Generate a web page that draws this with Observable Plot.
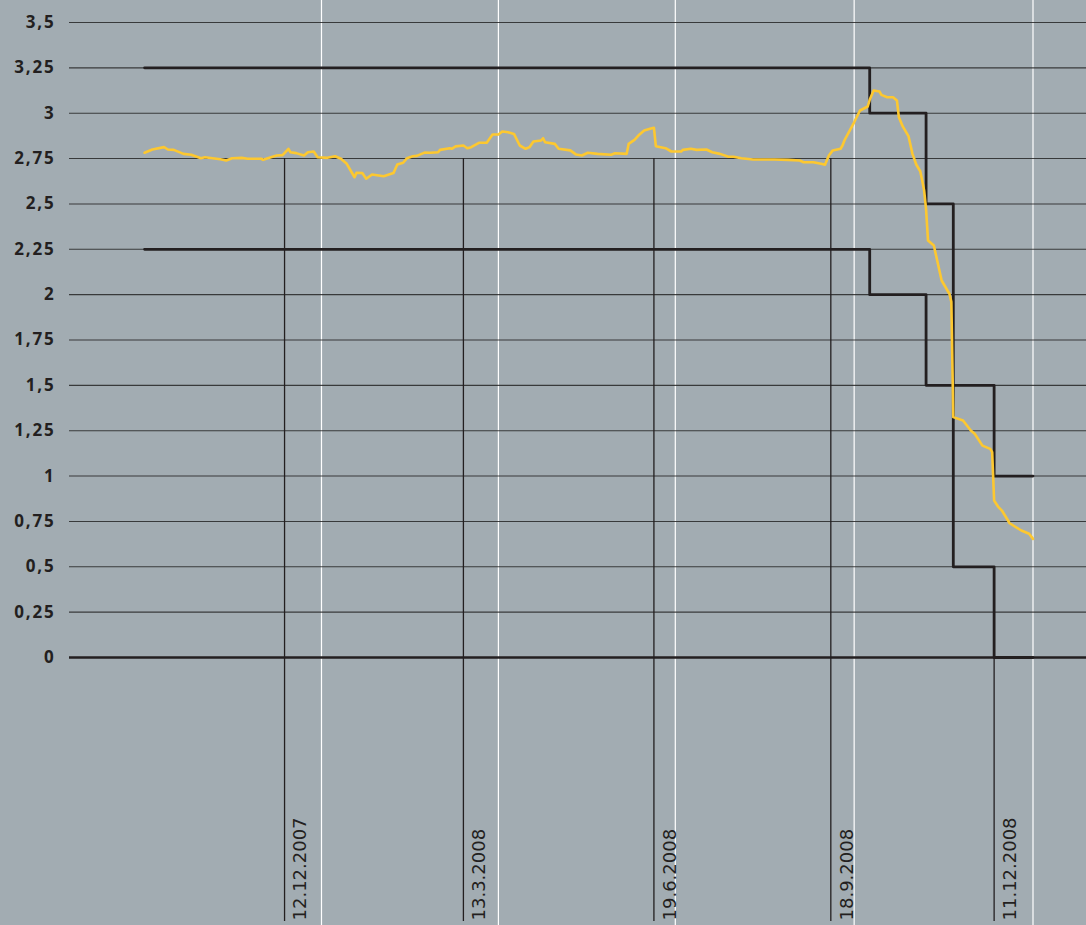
<!DOCTYPE html>
<html>
<head>
<meta charset="utf-8">
<script src="https://cdn.jsdelivr.net/npm/d3@7"></script>
<script src="https://cdn.jsdelivr.net/npm/@observablehq/plot@0.6"></script>
<style>
  html, body { margin: 0; padding: 0; background: #a2acb2; }
  #chart svg { display: block; }
  #chart g[aria-label="y-axis tick label"] { letter-spacing: 1.8px; font-weight: 700; }
</style>
</head>
<body>
<div id="chart"></div>
<script>
// 3-month CHF Libor (daily readings)
const liborDates = [
  "2007-10-02","2007-10-06","2007-10-12","2007-10-14","2007-10-17","2007-10-22","2007-10-26","2007-10-31",
  "2007-11-02","2007-11-10","2007-11-13","2007-11-16","2007-11-21","2007-11-24","2007-12-01","2007-12-02",
  "2007-12-06","2007-12-09","2007-12-12","2007-12-15","2007-12-16","2007-12-19","2007-12-23","2007-12-25",
  "2007-12-28","2007-12-30","2008-01-04","2008-01-08","2008-01-11","2008-01-14","2008-01-18","2008-01-19",
  "2008-01-22","2008-01-24","2008-01-27","2008-02-02","2008-02-07","2008-02-09","2008-02-12","2008-02-14",
  "2008-02-17","2008-02-19","2008-02-23","2008-02-26","2008-03-01","2008-03-02","2008-03-07","2008-03-08",
  "2008-03-10","2008-03-14","2008-03-16","2008-03-18","2008-03-22","2008-03-26","2008-03-29","2008-04-01",
  "2008-04-03","2008-04-06","2008-04-09","2008-04-12","2008-04-15","2008-04-17","2008-04-19","2008-04-23",
  "2008-04-24","2008-04-25","2008-04-30","2008-05-02","2008-05-08","2008-05-11","2008-05-14","2008-05-17",
  "2008-05-22","2008-05-29","2008-05-31","2008-06-06","2008-06-07","2008-06-10","2008-06-12","2008-06-15",
  "2008-06-18","2008-06-20","2008-06-21","2008-06-26","2008-06-29","2008-07-04","2008-07-05","2008-07-09",
  "2008-07-12","2008-07-17","2008-07-20","2008-07-24","2008-07-28","2008-07-31","2008-08-04","2008-08-10",
  "2008-08-21","2008-08-28","2008-09-03","2008-09-05","2008-09-10","2008-09-14","2008-09-16","2008-09-18",
  "2008-09-20","2008-09-24","2008-09-25","2008-09-26","2008-10-01","2008-10-04","2008-10-08","2008-10-09",
  "2008-10-11","2008-10-14","2008-10-15","2008-10-18","2008-10-21","2008-10-23","2008-10-24","2008-10-26",
  "2008-10-29","2008-10-31","2008-11-02","2008-11-04","2008-11-05","2008-11-06","2008-11-07","2008-11-08",
  "2008-11-11","2008-11-15","2008-11-18","2008-11-19","2008-11-20","2008-11-21","2008-11-26","2008-11-30",
  "2008-12-02","2008-12-06","2008-12-10","2008-12-11","2008-12-12","2008-12-14","2008-12-16","2008-12-20",
  "2008-12-26","2008-12-30","2009-01-01"
];
const liborValues = [
  2.782,2.800,2.813,2.800,2.798,2.776,2.771,2.752,
  2.757,2.746,2.739,2.752,2.754,2.749,2.749,2.743,
  2.757,2.767,2.769,2.804,2.785,2.780,2.767,2.785,
  2.789,2.757,2.754,2.763,2.749,2.721,2.647,2.672,
  2.670,2.639,2.662,2.653,2.670,2.717,2.727,2.752,
  2.763,2.765,2.783,2.782,2.785,2.798,2.807,2.804,
  2.817,2.822,2.807,2.813,2.837,2.837,2.883,2.883,
  2.899,2.895,2.886,2.822,2.804,2.813,2.844,2.850,
  2.862,2.840,2.831,2.804,2.795,2.772,2.767,2.782,
  2.776,2.771,2.779,2.776,2.831,2.853,2.877,2.905,
  2.914,2.920,2.818,2.807,2.789,2.789,2.798,2.804,
  2.798,2.800,2.785,2.776,2.761,2.760,2.752,2.745,
  2.745,2.743,2.739,2.730,2.730,2.721,2.716,2.767,
  2.795,2.804,2.822,2.850,2.950,3.015,3.037,3.074,
  3.125,3.120,3.101,3.088,3.088,3.070,2.978,2.927,
  2.872,2.776,2.716,2.680,2.629,2.574,2.470,2.298,
  2.271,2.078,2.023,2.005,1.960,1.325,1.306,1.251,
  1.233,1.168,1.150,1.132,0.865,0.832,0.810,0.740,
  0.700,0.682,0.654
];

// Target range for the 3-month Libor (upper / lower bound), step dates
const rangeDates  = ["2007-10-01","2008-10-08","2008-11-06","2008-11-20","2008-12-11","2008-12-31"];
const upperValues = [3.25, 3.0, 2.5, 1.5, 1.0, 1.0];
const lowerValues = [2.25, 2.0, 1.5, 0.5, 0.0, 0.0];

// Monetary policy assessments
const eventDates  = ["2007-12-12","2008-03-13","2008-06-19","2008-09-18","2008-12-11"];
const eventLabels = ["12.12.2007","13.3.2008","19.6.2008","18.9.2008","11.12.2008"];
const eventTops   = [2.75, 2.75, 2.75, 2.75, 0];

// Quarter boundaries (white grid lines)
const quarterDates = ["2008-01-01","2008-04-01","2008-07-01","2008-10-01","2009-01-01"];

// Y tick values
const yTickValues = [0, 0.25, 0.5, 0.75, 1, 1.25, 1.5, 1.75, 2, 2.25, 2.5, 2.75, 3, 3.25, 3.5];

const parse = s => new Date(s + "T00:00:00Z");
const endOfDay = d => d3.utcDay.offset(d, 1);

const libor = liborDates.map((d, i) => ({date: parse(d), value: liborValues[i]}));
const upper = rangeDates.map((d, i) => ({date: endOfDay(parse(d)), value: upperValues[i]}));
const lower = rangeDates.map((d, i) => ({date: endOfDay(parse(d)), value: lowerValues[i]}));
const events = eventDates.map((d, i) => ({date: endOfDay(parse(d)), label: eventLabels[i], top: eventTops[i]}));
const quarters = quarterDates.map(parse);

const ink = "#231f20";

const chart = Plot.plot({
  width: 1086,
  height: 925,
  marginLeft: 69,
  marginRight: 0,
  marginTop: 22,
  marginBottom: 268,
  style: {background: "#a2acb2", color: ink, fontFamily: "'Open Sans', sans-serif", fontSize: "17px"},
  x: {type: "utc", domain: [new Date(Date.UTC(2007, 7, 24, 9)), new Date(Date.UTC(2009, 0, 28, 12, 30))], axis: null},
  y: {domain: [0, 3.5]},
  marks: [
    Plot.ruleX(quarters, {x: d => d, stroke: "#ffffff", strokeWidth: 1.2, insetTop: -22, insetBottom: -268}),
    Plot.ruleY(yTickValues.filter(v => v !== 0), {y: d => d, stroke: "#262626", strokeWidth: 1.1, strokeOpacity: 0.85}),
    Plot.ruleY([0], {stroke: ink, strokeWidth: 2.7}),
    Plot.ruleX(events, {x: "date", y1: "top", y2: () => 0, insetBottom: -264, stroke: ink, strokeWidth: 1.3}),
    Plot.line(upper, {x: "date", y: "value", curve: "step-after", stroke: ink, strokeWidth: 2.8}),
    Plot.line(lower, {x: "date", y: "value", curve: "step-after", stroke: ink, strokeWidth: 2.8}),
    Plot.line(libor, {x: "date", y: "value", stroke: "#fdc830", strokeWidth: 2.6, curve: "linear"}),
    Plot.axisY(yTickValues, {tickSize: 0, tickPadding: 14, label: null, tickFormat: d => String(d).replace(".", ","),
      fill: ink, fontSize: 17, fontWeight: 700, fontFamily: "'Open Sans', sans-serif"}),
    Plot.text(events, {x: "date", y: () => 0, text: "label", rotate: -90, textAnchor: "start", dx: 16, dy: 263,
      fontFamily: "DejaVu Sans", fontSize: 18, fontWeight: 400, fill: ink})
  ]
});
document.getElementById("chart").appendChild(chart);
</script>
</body>
</html>
